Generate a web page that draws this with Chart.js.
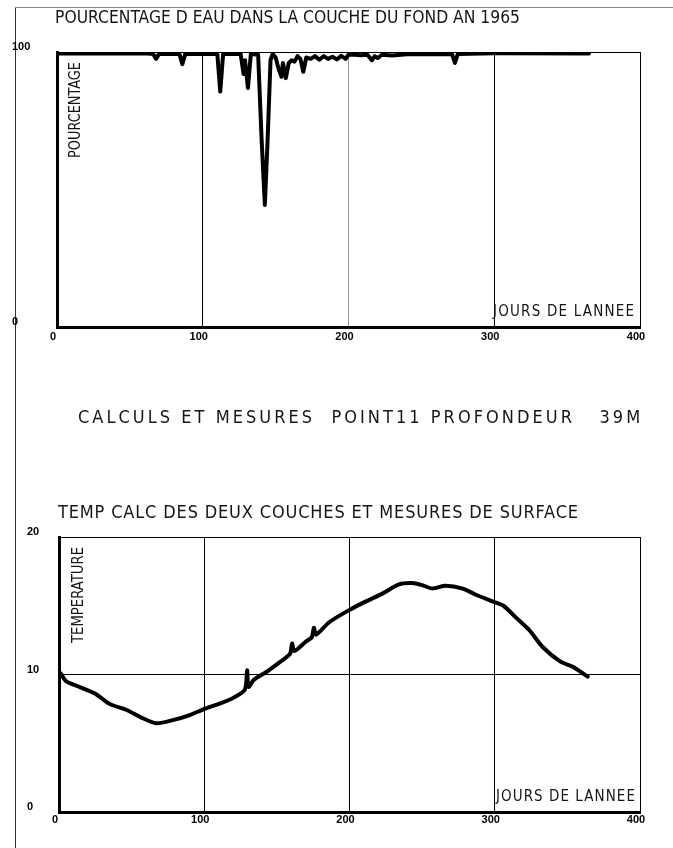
<!DOCTYPE html>
<html>
<head>
<meta charset="utf-8">
<script src="https://cdn.jsdelivr.net/npm/chart.js@4"></script>
<style>
  html, body { margin:0; padding:0; background:#fff; }
  body { width:673px; height:848px; position:relative; overflow:hidden; }
  canvas { position:absolute; left:0; }
  #c1 { top:0; }
  #c2 { top:460px; }
  #frameL { position:absolute; left:15px; top:7px; width:1px; height:841px; background:#333; }
  #frameT { position:absolute; left:15px; top:7px; width:658px; height:1px; background:#888; }
</style>
</head>
<body>
<div id="frameL"></div>
<div id="frameT"></div>
<canvas id="c1" width="673" height="460"></canvas>
<canvas id="c2" width="673" height="388"></canvas>
<script>
// ---- data ----
const pctDays   = [1, 60, 66, 68, 70, 84, 86, 88, 110, 112, 114, 126, 128, 129, 131, 133, 138, 140.4, 142.6, 144.5, 146.5, 148, 150, 152, 154, 155, 157, 159, 161, 163, 165, 167, 169, 171, 174, 177, 180, 183, 186, 189, 192, 195, 198, 200, 204, 208, 213, 216, 218, 220, 223, 230, 240, 271, 273, 275, 300, 365];
const pctValues = [99.5, 99.5, 99.3, 97.5, 99.3, 99.3, 95.6, 99.3, 99.3, 85.6, 99.3, 99.3, 92, 97, 86.9, 99.3, 99, 68, 44.4, 68, 97, 99.3, 98, 94, 91, 96, 90.5, 96, 97, 96.5, 98.5, 97.5, 92.8, 98, 97.5, 98.5, 97.2, 98.5, 97.5, 98.3, 97.3, 98.6, 97.5, 99, 99, 98.8, 99, 97, 98.5, 97.8, 99, 98.7, 99.2, 99.3, 96, 99.3, 99.5, 99.5];

const tempDays   = [1, 5, 14, 25, 35, 47, 56, 67, 79, 90, 99, 111, 120, 128, 129.5, 130.5, 134, 143, 152, 159, 160.5, 162, 170, 174, 175.5, 177, 186, 200, 211, 223, 234, 243, 250, 257, 266, 278, 287, 299, 306, 315, 324, 333, 345, 354, 364];
const tempValues = [10.1, 9.5, 9.1, 8.6, 7.85, 7.4, 6.9, 6.45, 6.7, 7.05, 7.45, 7.9, 8.3, 8.9, 10.3, 9.1, 9.6, 10.2, 10.9, 11.5, 12.25, 11.7, 12.4, 12.7, 13.4, 12.9, 13.8, 14.7, 15.3, 15.9, 16.55, 16.65, 16.5, 16.25, 16.45, 16.25, 15.8, 15.3, 15.0, 14.1, 13.2, 12.0, 10.95, 10.55, 9.85];

const dayTicks  = [0, 100, 200, 300, 400];
const pctTicks  = [0, 100];
const tempTicks = [0, 10, 20];

// ---- text helper plugin ----
const FONT = "'DejaVu Sans Condensed', 'Liberation Sans Narrow', sans-serif";
const textPlugin = {
  id: 'plotText',
  afterDraw(chart, args, opts) {
    const ctx = chart.ctx;
    (opts.items || []).forEach(it => {
      ctx.save();
      ctx.font = `normal ${it.size}px ${FONT}`;
      ctx.fillStyle = '#151515';
      ctx.textBaseline = 'middle';
      ctx.textAlign = 'left';
      if ('letterSpacing' in ctx) ctx.letterSpacing = '0px';
      const m = ctx.measureText(it.text).width;
      let sx = 1;
      if (m < it.w && 'letterSpacing' in ctx) {
        ctx.letterSpacing = ((it.w - m) / (it.text.length - 1)).toFixed(2) + 'px';
      } else {
        sx = it.w / m;
      }
      if (it.rot) {
        ctx.translate(it.cx, it.cy);
        ctx.rotate(-Math.PI / 2);
        ctx.scale(sx, 1);
        ctx.fillText(it.text, -it.w / (2 * sx), 0);
      } else {
        ctx.translate(it.x, it.cy);
        ctx.scale(sx, 1);
        ctx.fillText(it.text, 0, 0);
      }
      ctx.restore();
    });
  }
};

const tickFont = { family: "'Liberation Sans', Arial, sans-serif", weight: 'bold', size: 11 };

function makeChart(id, xs, ys, yMax, yTickVals, cfg) {
  const pts = xs.map((d, i) => ({ x: d, y: ys[i] }));
  return new Chart(document.getElementById(id), {
    type: 'line',
    data: { datasets: [{ data: pts, borderColor: '#000', borderWidth: 4, pointRadius: 0, tension: cfg.tension, fill: false, borderJoinStyle: 'round', borderCapStyle: 'round' }] },
    options: {
      responsive: false,
      animation: false,
      layout: { padding: cfg.padding },
      plugins: { legend: { display: false }, tooltip: { enabled: false }, plotText: { items: cfg.texts } },
      scales: {
        x: {
          type: 'linear', min: 0, max: 400,
          afterBuildTicks: s => { s.ticks = dayTicks.map(v => ({ value: v })); },
          afterFit: s => { s.height = 23; },
          ticks: { font: tickFont, color: '#000', padding: cfg.xPad, labelOffset: -4, maxRotation: 0, autoSkip: false },
          grid: { drawTicks: false, lineWidth: 1, color: c => c.tick && c.tick.value === 0 ? 'rgba(0,0,0,0)' : (cfg.faint200 && c.tick && c.tick.value === 200 ? '#9a9a9a' : '#000') },
          border: { color: '#000', width: 3 }
        },
        y: {
          type: 'linear', min: 0, max: yMax,
          afterBuildTicks: s => { s.ticks = yTickVals.map(v => ({ value: v })); },
          afterFit: s => { s.width = cfg.yWidth; },
          ticks: { font: tickFont, color: '#000', crossAlign: 'far', labelOffset: -5, padding: 0 },
          grid: { drawTicks: false, lineWidth: 1, color: c => c.tick && c.tick.value === 0 ? 'rgba(0,0,0,0)' : '#000' },
          border: { color: '#000', width: 3 }
        }
      }
    },
    plugins: [textPlugin]
  });
}

makeChart('c1', pctDays, pctValues, 100, pctTicks, {
  tension: 0,
  padding: { left: 12, top: 52, right: 33, bottom: 110 },
  xPad: 3,
  yWidth: 45,
  faint200: true,
  texts: [
    { text: 'POURCENTAGE D EAU DANS LA COUCHE DU FOND AN 1965', x: 55, cy: 18, w: 465, size: 18 },
    { text: 'POURCENTAGE', rot: true, cx: 76, cy: 110, w: 96, size: 15 },
    { text: 'JOURS DE LANNEE', x: 493, cy: 312, w: 141, size: 15 },
    { text: 'CALCULS ET MESURES  POINT11 PROFONDEUR   39M', x: 78, cy: 418, w: 562, size: 18 }
  ]
});

makeChart('c2', tempDays, tempValues, 20, tempTicks, {
  tension: 0.25,
  padding: { left: 27, top: 77, right: 33, bottom: 13 },
  xPad: 1,
  yWidth: 32,
  faint200: false,
  texts: [
    { text: 'TEMP CALC DES DEUX COUCHES ET MESURES DE SURFACE', x: 58, cy: 53, w: 520, size: 18 },
    { text: 'TEMPERATURE', rot: true, cx: 79, cy: 135, w: 96, size: 15 },
    { text: 'JOURS DE LANNEE', x: 496, cy: 337, w: 139, size: 15 }
  ]
});
</script>
</body>
</html>
